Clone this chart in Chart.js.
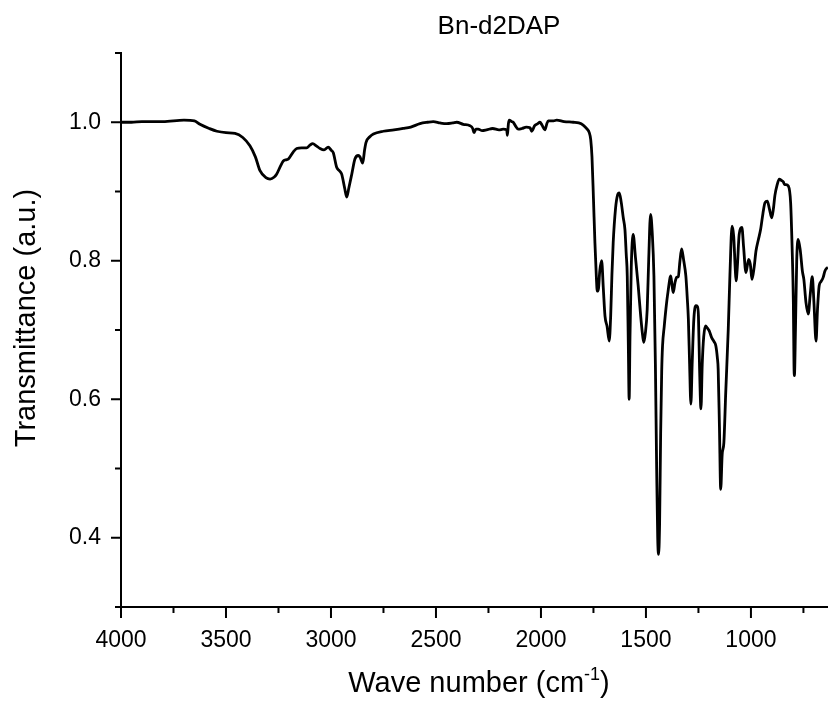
<!DOCTYPE html>
<html>
<head>
<meta charset="utf-8">
<script src="https://cdn.jsdelivr.net/npm/chart.js@4.4.0/dist/chart.umd.min.js"></script>
<style>
  html, body { margin: 0; padding: 0; background: #fff; }
  #wrap { width: 828px; height: 701px; }
</style>
</head>
<body>
<div id="wrap"><canvas id="irChart" width="828" height="701"></canvas></div>
<script>
// IR spectrum of Bn-d2DAP
const waveNumbers = [
  4000, 3950, 3900, 3800, 3700, 3650, 3624, 3580, 3543, 3500, 3457, 3420, 3386, 3360, 3338,
  3310, 3290, 3270, 3259, 3240, 3227, 3210, 3203, 3180, 3163, 3140, 3116, 3100, 3087, 3070,
  3052, 3033, 3013, 3000, 2989, 2973, 2960, 2949, 2935, 2925, 2915, 2901, 2886, 2870, 2862,
  2849, 2840, 2833, 2815, 2798, 2751, 2700, 2656, 2620, 2576, 2540, 2513, 2480, 2449, 2420,
  2401, 2370, 2338, 2325, 2319, 2310, 2299, 2280, 2259, 2230, 2200, 2180, 2163, 2160, 2155,
  2151, 2140, 2132, 2120, 2108, 2090, 2070, 2052, 2044, 2030, 2015, 2005, 1995, 1981, 1972,
  1965, 1940, 1925, 1890, 1846, 1820, 1799, 1780, 1770, 1763, 1757, 1750, 1743, 1736, 1732,
  1726, 1720, 1711, 1703, 1695, 1685, 1675, 1668, 1662, 1656, 1645, 1635, 1627, 1618, 1608,
  1600, 1594, 1589, 1584, 1580, 1576, 1570, 1561, 1550, 1537, 1525, 1515, 1510, 1503, 1494,
  1487, 1478, 1470, 1462, 1455, 1449, 1444, 1440, 1435, 1430, 1425, 1421, 1413, 1405, 1395,
  1382, 1376, 1370, 1362, 1354, 1346, 1338, 1330, 1320, 1310, 1303, 1298, 1292, 1286, 1280,
  1272, 1262, 1255, 1250, 1245, 1238, 1232, 1225, 1216, 1208, 1199, 1187, 1175, 1167, 1160,
  1156, 1150, 1144, 1137, 1129, 1120, 1108, 1100, 1090, 1082, 1075, 1071, 1065, 1056, 1043,
  1035, 1024, 1011, 1003, 995, 985, 976, 965, 954, 943, 933, 922, 912, 901, 893,
  886, 875, 865, 855, 846, 840, 833, 822, 811, 804, 798, 795, 793, 788, 782,
  775, 765, 755, 748, 738, 727, 718, 708, 700, 690, 683, 675, 666, 656, 648,
  640, 633
];
const transmittance = [
  1.000, 1.000, 1.001, 1.001, 1.003, 1.002, 0.997, 0.991, 0.987, 0.985, 0.984, 0.978, 0.966, 0.950, 0.930,
  0.920, 0.918, 0.921, 0.925, 0.937, 0.944, 0.946, 0.947, 0.957, 0.962, 0.963, 0.963, 0.967, 0.969, 0.966,
  0.962, 0.960, 0.964, 0.960, 0.956, 0.935, 0.930, 0.925, 0.905, 0.892, 0.905, 0.925, 0.947, 0.952, 0.950,
  0.941, 0.960, 0.971, 0.979, 0.983, 0.987, 0.989, 0.991, 0.993, 0.998, 1.000, 1.001, 0.999, 0.998, 0.999,
  1.000, 0.997, 0.995, 0.991, 0.985, 0.990, 0.990, 0.988, 0.989, 0.991, 0.989, 0.990, 0.989, 0.981, 0.998,
  1.003, 1.001, 1.000, 0.994, 0.990, 0.991, 0.993, 0.992, 0.987, 0.995, 0.998, 1.000, 0.996, 0.989, 0.998,
  1.002, 1.002, 1.003, 1.001, 1.000, 0.999, 0.996, 0.990, 0.985, 0.975, 0.950, 0.890, 0.826, 0.775, 0.756,
  0.760, 0.785, 0.800, 0.760, 0.720, 0.705, 0.684, 0.720, 0.780, 0.826, 0.875, 0.895, 0.898, 0.885, 0.862,
  0.845, 0.810, 0.778, 0.680, 0.600, 0.690, 0.790, 0.838, 0.805, 0.764, 0.720, 0.690, 0.682, 0.695, 0.730,
  0.800, 0.867, 0.840, 0.778, 0.650, 0.500, 0.400, 0.376, 0.420, 0.550, 0.640, 0.677, 0.705, 0.730, 0.755,
  0.778, 0.765, 0.754, 0.768, 0.776, 0.777, 0.800, 0.817, 0.800, 0.778, 0.745, 0.716, 0.650, 0.593, 0.650,
  0.715, 0.735, 0.734, 0.720, 0.650, 0.586, 0.650, 0.690, 0.706, 0.703, 0.699, 0.689, 0.683, 0.677, 0.660,
  0.643, 0.560, 0.470, 0.520, 0.537, 0.610, 0.701, 0.780, 0.850, 0.835, 0.790, 0.771, 0.790, 0.838, 0.848,
  0.820, 0.783, 0.802, 0.795, 0.773, 0.790, 0.814, 0.830, 0.845, 0.868, 0.884, 0.886, 0.875, 0.862, 0.875,
  0.894, 0.910, 0.918, 0.916, 0.914, 0.910, 0.910, 0.908, 0.884, 0.820, 0.740, 0.650, 0.634, 0.700, 0.800,
  0.831, 0.815, 0.785, 0.773, 0.740, 0.723, 0.750, 0.777, 0.740, 0.684, 0.730, 0.764, 0.770, 0.776, 0.785,
  0.789, 0.790
];

const xMajorTicks = [4000, 3500, 3000, 2500, 2000, 1500, 1000];
const xMinorTicks = [3750, 3250, 2750, 2250, 1750, 1250, 750];
const yMajorTicks = [0.4, 0.6, 0.8, 1.0];
const yMinorTicks = [0.3, 0.5, 0.7, 0.9, 1.1];

const FONT = 'Liberation Sans, Arial, sans-serif';

const points = waveNumbers.map((w, i) => ({ x: w, y: transmittance[i] }));

// tick marks (long major, short minor) and the text around the plot
const decorations = {
  id: 'decorations',
  afterDraw(chart) {
    const ctx = chart.ctx;
    const xs = chart.scales.x, ys = chart.scales.y;
    const bottom = chart.chartArea.bottom, left = chart.chartArea.left;
    ctx.save();
    ctx.strokeStyle = '#000';
    ctx.lineWidth = 2;
    ctx.beginPath();
    xMajorTicks.forEach(v => { const p = xs.getPixelForValue(v); ctx.moveTo(p, bottom); ctx.lineTo(p, bottom + 11); });
    xMinorTicks.forEach(v => { const p = xs.getPixelForValue(v); ctx.moveTo(p, bottom); ctx.lineTo(p, bottom + 6); });
    yMajorTicks.forEach(v => { const p = ys.getPixelForValue(v); ctx.moveTo(left, p); ctx.lineTo(left - 10, p); });
    yMinorTicks.forEach(v => { const p = ys.getPixelForValue(v); ctx.moveTo(left, p); ctx.lineTo(left - 6, p); });
    ctx.stroke();

    ctx.fillStyle = '#000';
    // title
    ctx.font = '26px ' + FONT;
    ctx.textAlign = 'center';
    ctx.textBaseline = 'alphabetic';
    ctx.fillText('Bn-d2DAP', 499, 34);

    // y axis title
    ctx.save();
    ctx.translate(35, 318);
    ctx.rotate(-Math.PI / 2);
    ctx.font = '29px ' + FONT;
    ctx.fillText('Transmittance (a.u.)', 0, 0);
    ctx.restore();

    // x axis title with superscript
    const big = '29px ' + FONT, small = '18px ' + FONT;
    ctx.font = big;
    const w1 = ctx.measureText('Wave number (cm').width;
    const w3 = ctx.measureText(')').width;
    ctx.font = small;
    const w2 = ctx.measureText('-1').width;
    let x0 = 479 - (w1 + w2 + w3) / 2;
    const base = 692;
    ctx.textAlign = 'left';
    ctx.font = big;
    ctx.fillText('Wave number (cm', x0, base);
    ctx.font = small;
    ctx.fillText('-1', x0 + w1, base - 12);
    ctx.font = big;
    ctx.fillText(')', x0 + w1 + w2, base);
    ctx.restore();
  }
};

const ctx = document.getElementById('irChart').getContext('2d');
const irChart = new Chart(ctx, {
  type: 'line',
  data: {
    datasets: [{
      label: 'Bn-d2DAP',
      data: points,
      borderColor: '#000',
      borderWidth: 2.8,
      pointRadius: 0,
      fill: false,
      cubicInterpolationMode: 'monotone'
    }]
  },
  options: {
    responsive: false,
    animation: false,
    layout: { padding: { top: 53, left: 0, right: 0, bottom: 0 } },
    plugins: { legend: { display: false }, tooltip: { enabled: false }, title: { display: false } },
    scales: {
      x: {
        type: 'linear',
        reverse: true,
        min: 633,
        max: 4000,
        afterBuildTicks: s => { s.ticks = xMajorTicks.map(v => ({ value: v })); },
        afterFit: s => { s.height = 94; },
        grid: { display: true, drawOnChartArea: false, drawTicks: false },
        border: { display: true, color: '#000', width: 2 },
        ticks: { color: '#000', font: { family: FONT, size: 23 }, padding: 20, maxRotation: 0, callback: v => String(v) }
      },
      y: {
        min: 0.3,
        max: 1.1,
        afterBuildTicks: s => { s.ticks = yMajorTicks.map(v => ({ value: v })); },
        afterFit: s => { s.width = 121; },
        grid: { display: true, drawOnChartArea: false, drawTicks: false },
        border: { display: true, color: '#000', width: 2 },
        ticks: { color: '#000', font: { family: FONT, size: 23 }, padding: 20, callback: v => v.toFixed(1) }
      }
    }
  },
  plugins: [decorations]
});
</script>
</body>
</html>
